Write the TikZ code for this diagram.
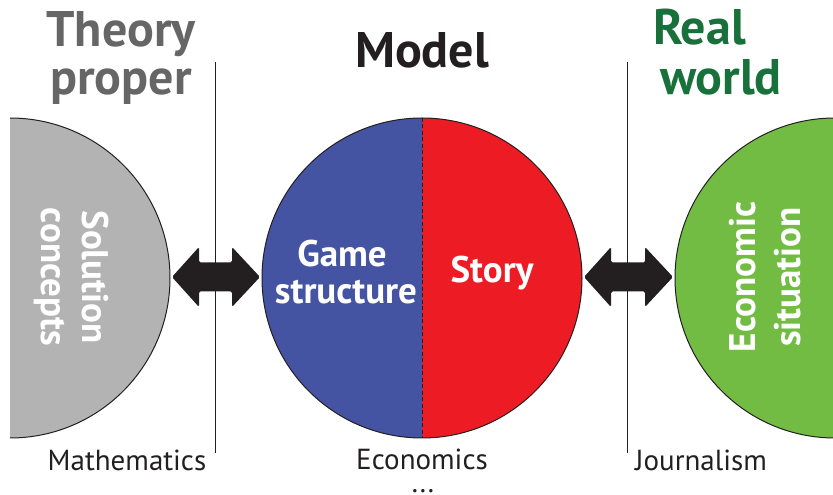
\documentclass[tikz,border=0pt]{standalone}
\usepackage{fontspec}
\setmainfont{PT Sans}
\usetikzlibrary{calc}

\definecolor{ink}{HTML}{231F20}
\definecolor{theorygray}{HTML}{B3B3B3}
\definecolor{titlegray}{HTML}{666666}
\definecolor{gameblue}{HTML}{4553A3}
\definecolor{storyred}{HTML}{ED1C24}
\definecolor{econgreen}{HTML}{72BC44}
\definecolor{realgreen}{HTML}{18703A}

% double-headed block arrow between two named points
\newcommand\dblfat[2]{%
  \fill[ink, rounded corners=1.5pt]
    (#1) -- ($(#1)+(27,30)$) -- ($(#1)+(27,14.5)$) -- ($(#2)+(-28,14.5)$)
    -- ($(#2)+(-28,30)$) -- (#2) -- ($(#2)+(-28,-30)$) -- ($(#2)+(-28,-14.5)$)
    -- ($(#1)+(27,-14.5)$) -- ($(#1)+(27,-30)$) -- cycle;}

\begin{document}
\begin{tikzpicture}[x=1pt,y=1pt,
  rim/.style={draw=ink, line width=1pt},
  divider/.style={draw=ink, line width=1pt},
  heading/.style={font=\fontsize{50}{50}\selectfont\bfseries, inner sep=0pt},
  inlabel/.style={font=\fontsize{37}{37}\selectfont\bfseries, text=white, inner sep=0pt},
  footlabel/.style={font=\fontsize{29}{29}\selectfont, text=ink, inner sep=0pt}]
\useasboundingbox (0,0) rectangle (833,495);
\clip (0,0) rectangle (833,495);

% centres of the three disks
\coordinate (theory) at (10,217);
\coordinate (model) at (422,217);
\coordinate (world) at (835,217);

% theory: half disk, flat side on the left
\fill[theorygray] ($(theory)+(0,160)$) arc[start angle=90,end angle=-90,radius=160] -- cycle;
\draw[rim] ($(theory)+(0,160)$) arc[start angle=90,end angle=-90,radius=160];

% model: blue and red halves
\fill[gameblue] ($(model)+(0,160)$) arc[start angle=90,end angle=270,radius=160] -- cycle;
\fill[storyred] ($(model)+(0,160)$) arc[start angle=90,end angle=-90,radius=160] -- cycle;
\draw[rim] (model) circle[radius=160];
\draw[ink, line width=0.9pt, dash pattern=on 4pt off 2.5pt]
  ($(model)+(0,160)$) -- ($(model)+(0,-160)$);

% real world: half disk, cut by the right edge
\fill[econgreen] ($(world)+(0,160)$) arc[start angle=90,end angle=270,radius=160] -- cycle;
\draw[rim] ($(world)+(0,160)$) arc[start angle=90,end angle=270,radius=160];

% dividers
\coordinate (d1top) at (215,433); \coordinate (d1bot) at (215,42);
\coordinate (d2top) at (627,433); \coordinate (d2bot) at (627,42);
\draw[divider] (d1top) -- (d1bot);
\draw[divider] (d2top) -- (d2bot);

% block arrows between the disks
\coordinate (a1l) at (172,218); \coordinate (a1r) at (260,218);
\coordinate (a2l) at (584,218); \coordinate (a2r) at (673,218);
\dblfat{a1l}{a1r}
\dblfat{a2l}{a2r}

% headings
\node[heading, text=titlegray, anchor=base] (th1) at (121,448) {Theory};
\node[heading, text=titlegray, anchor=base] (th2) at (121,400) {proper};
\node[heading, text=ink, anchor=base] (mo) at (422,427) {Model};
\node[heading, text=realgreen, anchor=base west] (rw1) at (653,450) {Real};
\node[heading, text=realgreen, anchor=base west] (rw2) at (660,400) {world};

% labels inside the disks
\node[inlabel, anchor=base, rotate=-90] (sc1) at (82,218) {Solution};
\node[inlabel, anchor=base, rotate=-90] (sc2) at (42,218) {concepts};
\node[inlabel, anchor=base] (gs1) at (342,228) {Game};
\node[inlabel, anchor=base] (gs2) at (346,191) {structure};
\node[inlabel, anchor=base] (st) at (492,212) {Story};
\node[inlabel, anchor=base, rotate=90] (es1) at (755,218) {Economic};
\node[inlabel, anchor=base, rotate=90] (es2) at (800,218) {situation};

% discipline labels along the bottom
\node[footlabel, anchor=base] (ma) at (127,24) {Mathematics};
\node[footlabel, anchor=base] (ec) at (422,25) {Economics};
\node[footlabel, anchor=base] (dots) at (423,2) {...};
\node[footlabel, anchor=base] (jo) at (701,24) {Journalism};
\end{tikzpicture}
\end{document}
